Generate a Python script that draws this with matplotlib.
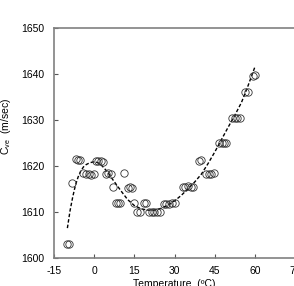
import matplotlib
matplotlib.use("Agg")
import matplotlib.pyplot as plt

plt.rcParams['font.family'] = ['Liberation Sans', 'DejaVu Sans']
plt.rcParams['mathtext.default'] = 'regular'
plt.rcParams['axes.unicode_minus'] = False

# measured data (temperature in degC, velocity in m/sec)
temp = [-10, -9.5, -8.2,
        -6.7, -6.0, -5.2,
        -4, -3, -2, -1, 0,
        0.5, 1.5, 2.5, 3.3,
        4.3, 5.3, 6.3,
        7,
        8, 9, 9.7,
        11,
        12.5, 13.3, 14.2,
        15,
        16, 17,
        18.5, 19.5,
        20.5, 21.5, 22.5, 23.5, 24.5,
        26, 27, 28, 29, 30,
        33, 34, 35, 36, 37,
        39, 40,
        41.8, 42.8, 43.8, 44.8,
        46.8, 47.6, 48.4, 49.2,
        51.5, 52.5, 53.5, 54.5,
        56.5, 57.5,
        59.3, 60]
vel = [1603.0, 1603.0, 1616.3,
       1621.5, 1621.4, 1621.3,
       1618.5, 1618.3, 1618.2, 1618.1, 1618.2,
       1621.0, 1621.1, 1621.0, 1620.9,
       1618.3, 1618.4, 1618.3,
       1615.5,
       1612.0, 1611.9, 1612.0,
       1618.4,
       1615.3, 1615.4, 1615.3,
       1612.0,
       1610.0, 1610.0,
       1612.0, 1612.0,
       1610.0, 1610.0, 1610.0, 1610.0, 1610.0,
       1611.8, 1611.8, 1611.8, 1611.9, 1612.0,
       1615.5, 1615.5, 1615.6, 1615.5, 1615.5,
       1621.0, 1621.2,
       1618.3, 1618.3, 1618.3, 1618.4,
       1625.0, 1625.0, 1625.1, 1625.0,
       1630.4, 1630.4, 1630.4, 1630.5,
       1636.0, 1636.1,
       1639.6, 1639.8]

# fitted trend curve
fit_t = [-10, -9, -8, -7, -6, -5, -4, -3, -2, -1, 0, 1, 2, 3, 5, 7, 10,
         12.5, 15, 17.5, 20, 22.5, 25, 27.5, 30, 32.5, 35, 37.5, 40, 42.5,
         45, 47.5, 50, 52.5, 55, 57.5, 60]
fit_v = [1606.5, 1610.3, 1613.3, 1615.8, 1617.6, 1618.9, 1619.8, 1620.3,
         1620.6, 1620.8, 1620.9, 1620.8, 1620.5, 1620.0, 1618.7, 1617.0,
         1614.6, 1612.7, 1611.4, 1610.7, 1610.4, 1610.4, 1610.8, 1611.5,
         1612.4, 1613.6, 1615.0, 1616.5, 1618.2, 1620.5, 1623.0, 1625.7,
         1628.4, 1631.0, 1633.8, 1637.5, 1641.5]

xticks = [-15, 0, 15, 30, 45, 60, 75]
yticks = [1600, 1610, 1620, 1630, 1640, 1650]

fig = plt.figure(figsize=(2.94, 2.86), dpi=100)
ax = fig.add_axes([54/294, 1-258/286, 241/294, 230/286])

ax.plot(fit_t, fit_v, color='black', lw=1.0, ls=(0, (2.5, 1.5)), zorder=2)
ax.plot(temp, vel, ls='none', marker='o', ms=5.3, mfc='none', mec='#333333',
        mew=0.6, zorder=3)

ax.set_xlim(-15, 75)
ax.set_ylim(1600, 1650)
ax.set_xticks(xticks)
ax.set_yticks(yticks)
ax.tick_params(direction='in', length=3, width=0.8, color='#555555',
               labelsize=7.5)
ax.tick_params(axis='x', pad=6)
ax.tick_params(axis='y', pad=7)
for s in ['left', 'bottom', 'top']:
    ax.spines[s].set_color('#808080')
    ax.spines[s].set_linewidth(1.2)
ax.spines['right'].set_visible(False)

ax.set_xlabel('Temperature  (ºC)', fontsize=7.5, labelpad=2)
ax.set_ylabel('C$_{ve}$  (m/sec)', fontsize=7.5)
ax.yaxis.set_label_coords(-0.172, 0.574)

fig.savefig('out.png', dpi=100)
